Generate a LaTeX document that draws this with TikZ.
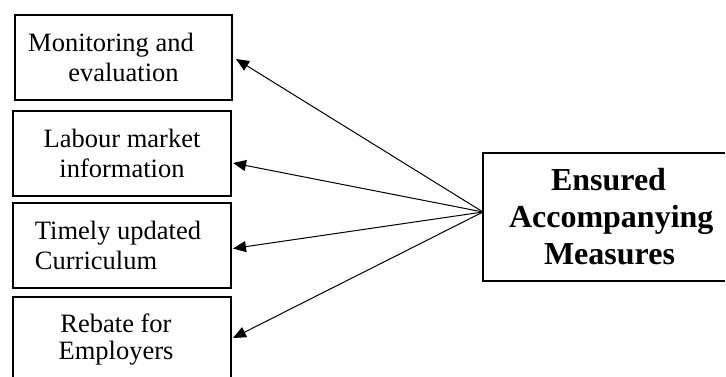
\documentclass[tikz,border=0pt]{standalone}
\usepackage{fontspec}
\setmainfont{Liberation Serif}
\usetikzlibrary{arrows.meta}
\begin{document}
\begin{tikzpicture}[x=1pt,y=-1pt,
  sidebox/.style={draw,line width=2pt,anchor=north west,inner sep=0pt,
    minimum width=218pt,minimum height=85pt,align=center,
    font=\fontsize{26.5}{30}\selectfont},
  mainbox/.style={line width=2pt,anchor=north west,inner sep=0pt,
    text width=240pt,minimum height=126pt,align=left,
    font=\fontsize{32}{37}\selectfont\bfseries},
  arr/.style={line width=1pt,-{Triangle[length=13pt,width=11pt]}}]
\useasboundingbox (0,0) rectangle (726,376);

% left column of measures
\node[sidebox,minimum width=217pt] (b1) at (14,14) {Monitoring and\kern25pt\\evaluation};
\node[sidebox] (b2) at (12,110) {Labour market\\information};
\node[sidebox,align=left] (b3) at (12,202) {Timely updated\kern8pt\\Curriculum};
\node[sidebox,font=\fontsize{26.5}{26.5}\selectfont] (b4) at (12,296) {Rebate for\kern12pt\\Employers\kern12pt};

% central box; its frame is open on the right, running off the page
\node[mainbox] (rb) at (483,153) {\hspace*{67pt}Ensured\\\hspace*{25pt}Accompanying\\\hspace*{60pt}Measures};
\draw[line width=2pt] (rb.north east) -| (rb.south west) -- (rb.south east);

% connectors from the central box to each measure
\coordinate (hub) at ([yshift=5pt]rb.west);
\draw[arr] (hub) -- ([xshift=3pt,yshift=-1.5pt]b1.east);
\draw[arr] (hub) -- ([xshift=1pt,yshift=-9.5pt]b2.east);
\draw[arr] (hub) -- ([xshift=1pt,yshift=-3pt]b3.east);
\draw[arr] (hub) -- ([xshift=1pt,yshift=1.5pt]b4.east);
\end{tikzpicture}
\end{document}
